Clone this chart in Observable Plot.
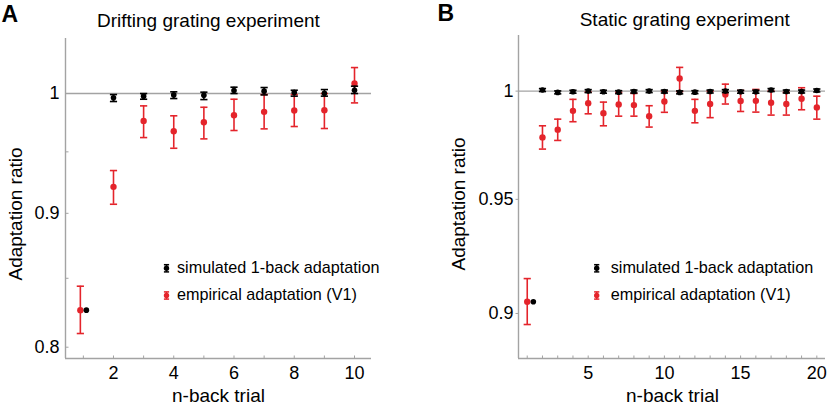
<!DOCTYPE html>
<html>
<head>
<meta charset="utf-8">
<script src="https://cdn.jsdelivr.net/npm/d3@7"></script>
<script src="https://cdn.jsdelivr.net/npm/@observablehq/plot@0.6"></script>
<style>
  html, body { margin: 0; padding: 0; background: #fff; }
  #wrap { position: relative; width: 828px; height: 405px; overflow: hidden; font-family: "Liberation Sans", Arial, sans-serif; }
  #wrap > .panel { position: absolute; top: 0; }
  #overlay { position: absolute; left: 0; top: 0; pointer-events: none; }
</style>
</head>
<body>
<div id="wrap">
  <div class="panel" id="panelA" style="left:0"></div>
  <div class="panel" id="panelB" style="left:414px"></div>
</div>
<script>
// ---------------- Data ----------------
// Panel A: drifting grating experiment
const driftTrials = [1, 2, 3, 4, 5, 6, 7, 8, 9, 10];
const driftSimMean = [0.8265, 0.9962, 0.9977, 0.9988, 0.9985, 1.0026, 1.0021, 1.0009, 1.0003, 1.0029];
const driftSimLow  = [0.8263, 0.9930, 0.9950, 0.9956, 0.9947, 1.0000, 0.9988, 0.9977, 0.9977, 1.0000];
const driftSimHigh = [0.8267, 0.9991, 1.0000, 1.0015, 1.0012, 1.0056, 1.0053, 1.0029, 1.0035, 1.0065];
const driftEmpMean = [0.8265, 0.9212, 0.9762, 0.9674, 0.9751, 0.9811, 0.9840, 0.9852, 0.9854, 1.0088];
const driftEmpLow  = [0.8097, 0.9072, 0.9620, 0.9530, 0.9609, 0.9680, 0.9694, 0.9714, 0.9697, 0.9918];
const driftEmpHigh = [0.8441, 0.9345, 0.9892, 0.9806, 0.9880, 0.9950, 0.9991, 0.9991, 1.0000, 1.0231];

// Panel B: static grating experiment
const staticTrials = [1, 2, 3, 4, 5, 6, 7, 8, 9, 10, 11, 12, 13, 14, 15, 16, 17, 18, 19, 20];
const staticSimMean = [0.9050, 1.0005, 0.9994, 0.9997, 1.0000, 0.9997, 0.9995, 0.9998, 1.0000, 0.9998, 0.9994, 0.9995, 0.9998, 1.0000, 0.9997, 0.9997, 1.0005, 0.9998, 0.9998, 1.0003];
const staticSimLow  = [0.9049, 0.9998, 0.9987, 0.9990, 0.9993, 0.9990, 0.9988, 0.9991, 0.9993, 0.9991, 0.9987, 0.9988, 0.9991, 0.9993, 0.9990, 0.9990, 0.9998, 0.9991, 0.9991, 0.9996];
const staticSimHigh = [0.9051, 1.0012, 1.0001, 1.0004, 1.0007, 1.0004, 1.0002, 1.0005, 1.0007, 1.0005, 1.0001, 1.0002, 1.0005, 1.0007, 1.0004, 1.0004, 1.0012, 1.0005, 1.0005, 1.0010];
const staticEmpMean = [0.9050, 0.9783, 0.9819, 0.9907, 0.9943, 0.9896, 0.9937, 0.9934, 0.9882, 0.9951, 1.0060, 0.9907, 0.9939, 0.9984, 0.9953, 0.9954, 0.9945, 0.9939, 0.9964, 0.9923];
const staticEmpLow  = [0.8953, 0.9729, 0.9769, 0.9856, 0.9893, 0.9837, 0.9882, 0.9882, 0.9831, 0.9900, 0.9998, 0.9851, 0.9875, 0.9939, 0.9904, 0.9901, 0.9887, 0.9887, 0.9912, 0.9868];
const staticEmpHigh = [0.9150, 0.9837, 0.9868, 0.9961, 0.9995, 0.9948, 0.9994, 0.9989, 0.9931, 1.0000, 1.0113, 0.9961, 1.0000, 1.0033, 1.0003, 1.0008, 1.0000, 0.9994, 1.0016, 0.9976];

// Ticks and labels
const driftXTickLabels = [2, 4, 6, 8, 10];
const driftYTickLabels = [0.8, 0.9, 1];
const driftYTicks = [0.8, 0.85, 0.9, 0.95];
const staticXTickLabels = [5, 10, 15, 20];
const staticYTickLabels = [0.9, 0.95, 1];

const seriesNames = ["simulated 1-back adaptation", "empirical adaptation (V1)"];
const titles = ["Drifting grating experiment", "Static grating experiment"];
const panelLetters = ["A", "B"];
const xLabel = "n-back trial";
const yLabel = "Adaptation ratio";

// ---------------- Styles ----------------
const RED = "#e4242b";
const BLACK = "#000000";
const GRAY = "#a3a3a3";
const FONT = "'Liberation Sans', Arial, Helvetica, sans-serif";

const radius = (size) => Math.sqrt(size / Math.PI);
const capSymbol = {draw(ctx, size) { const w = radius(size); ctx.moveTo(-w, 0); ctx.lineTo(w, 0); }};
const tickUp = {draw(ctx, size) { ctx.moveTo(0, 0); ctx.lineTo(0, -radius(size)); }};
const tickRight = {draw(ctx, size) { ctx.moveTo(0, 0); ctx.lineTo(radius(size), 0); }};
const tickLeft = {draw(ctx, size) { ctx.moveTo(0, 0); ctx.lineTo(-radius(size), 0); }};

function rows(trials, mean, lo, hi, firstOffset) {
  return trials.map((n, i) => ({
    x: n === 1 ? n + firstOffset : n,
    y: mean[i], lo: lo[i], hi: hi[i]
  }));
}

function seriesMarks(data, color, r, showBarFirst) {
  const bars = showBarFirst ? data : data.slice(1);
  return [
    Plot.ruleX(bars, {x: "x", y1: "lo", y2: "hi", stroke: color, strokeWidth: 1.6}),
    Plot.dot(bars, {x: "x", y: "lo", symbol: capSymbol, r: 3.6, fill: "none", stroke: color, strokeWidth: 1.6}),
    Plot.dot(bars, {x: "x", y: "hi", symbol: capSymbol, r: 3.6, fill: "none", stroke: color, strokeWidth: 1.6}),
    Plot.dot(data, {x: "x", y: "y", r, fill: color, stroke: "none"})
  ];
}

function panel(cfg) {
  const emp = rows(cfg.trials, cfg.empMean, cfg.empLow, cfg.empHigh, cfg.empOffset);
  const sim = rows(cfg.trials, cfg.simMean, cfg.simLow, cfg.simHigh, cfg.simOffset);
  const fmt = d3.format("~g");
  return Plot.plot({
    width: 414,
    height: 405,
    marginLeft: cfg.marginLeft,
    marginRight: cfg.marginRight,
    marginTop: cfg.marginTop,
    marginBottom: cfg.marginBottom,
    style: {fontFamily: FONT, fontSize: "18px", color: "#000", background: "transparent", overflow: "visible"},
    x: {domain: cfg.xDomain, axis: null},
    y: {type: "log", domain: cfg.yDomain, axis: null},
    marks: [
      Plot.ruleY([1], {stroke: GRAY, strokeWidth: 1.4}),
      Plot.ruleX([cfg.xDomain[0]], {stroke: GRAY, strokeWidth: 1.4}),
      Plot.ruleY([cfg.yDomain[0]], {stroke: GRAY, strokeWidth: 1.4}),
      // x tick marks (inward) and labels
      Plot.dot(cfg.trials, {x: (d) => d, frameAnchor: "bottom", symbol: tickUp, r: 3, fill: "none", stroke: GRAY, strokeWidth: 1}),
      Plot.text(cfg.xTickLabels, {x: (d) => d, text: (d) => fmt(d), frameAnchor: "bottom", lineAnchor: "top", dy: 7.5, fontSize: 18, fill: "#000"}),
      // y tick marks and labels
      Plot.dot(cfg.yTicks, {y: (d) => d, frameAnchor: "left", symbol: cfg.yTickSymbol, r: 3, fill: "none", stroke: GRAY, strokeWidth: 1}),
      Plot.text(cfg.yTickLabels, {y: (d) => d, text: (d) => fmt(d), frameAnchor: "left", textAnchor: "end", dx: -cfg.yLabelPad, fontSize: 18, fill: "#000"}),
      ...seriesMarks(emp, RED, 3.2, true),
      ...seriesMarks(sim, BLACK, 2.8, false)
    ]
  });
}

document.getElementById("panelA").appendChild(panel({
  trials: driftTrials,
  simMean: driftSimMean, simLow: driftSimLow, simHigh: driftSimHigh,
  empMean: driftEmpMean, empLow: driftEmpLow, empHigh: driftEmpHigh,
  empOffset: -0.1, simOffset: 0.1,
  marginLeft: 65, marginRight: 43, marginTop: 38, marginBottom: 47,
  xDomain: [0.407, 10.564], yDomain: [0.7921, 1.0496],
  xTickLabels: driftXTickLabels, yTickLabels: driftYTickLabels, yTicks: driftYTicks,
  yLabelPad: 6, yTickSymbol: tickRight
}));

document.getElementById("panelB").appendChild(panel({
  trials: staticTrials,
  simMean: staticSimMean, simLow: staticSimLow, simHigh: staticSimHigh,
  empMean: staticEmpMean, empLow: staticEmpLow, empHigh: staticEmpHigh,
  empOffset: 0, simOffset: 0.4,
  marginLeft: 104, marginRight: 3, marginTop: 35, marginBottom: 47,
  xDomain: [0.427, 20.57], yDomain: [0.8810, 1.0267],
  xTickLabels: staticXTickLabels, yTickLabels: staticYTickLabels, yTicks: staticYTickLabels,
  yLabelPad: 5, yTickSymbol: tickLeft
}));

// ---------------- Titles, labels, legends ----------------
const svg = d3.select("#wrap").append("svg")
  .attr("id", "overlay").attr("width", 828).attr("height", 405)
  .style("font-family", FONT);

const panelsText = [
  {letter: [1.5, 21.7], title: [97, 27.3], xl: [172, 401.5], yl: [21.5, 214], leg: [166.5, 177]},
  {letter: [437.5, 20.7], title: [579.7, 26], xl: [626, 401.5], yl: [464.5, 204], leg: [596.7, 610.7]}
];

panelsText.forEach((p, i) => {
  svg.append("text").attr("x", p.letter[0]).attr("y", p.letter[1])
    .attr("font-size", 23).attr("font-weight", "bold").text(panelLetters[i]);
  svg.append("text").attr("x", p.title[0]).attr("y", p.title[1])
    .attr("font-size", 19).text(titles[i]);
  svg.append("text").attr("x", p.xl[0]).attr("y", p.xl[1])
    .attr("font-size", 19).text(xLabel);
  svg.append("text").attr("transform", `translate(${p.yl[0]},${p.yl[1]}) rotate(-90)`)
    .attr("text-anchor", "middle").attr("font-size", 19).text(yLabel);
  // legend
  const colors = [BLACK, RED];
  const ys = [268.3, 295.5];
  seriesNames.forEach((name, j) => {
    const g = svg.append("g").attr("transform", `translate(${p.leg[0]},${ys[j]})`);
    g.append("line").attr("x1", 0).attr("x2", 0).attr("y1", -3.6).attr("y2", 3.6)
      .attr("stroke", colors[j]).attr("stroke-width", 1.5);
    g.append("line").attr("x1", -2.6).attr("x2", 2.6).attr("y1", -3.6).attr("y2", -3.6)
      .attr("stroke", colors[j]).attr("stroke-width", 1.5);
    g.append("line").attr("x1", -2.6).attr("x2", 2.6).attr("y1", 3.6).attr("y2", 3.6)
      .attr("stroke", colors[j]).attr("stroke-width", 1.5);
    g.append("circle").attr("r", 2.7).attr("fill", colors[j]);
    svg.append("text").attr("x", p.leg[1]).attr("y", ys[j] + 4.3)
      .attr("font-size", 16.2).text(name);
  });
});
</script>
</body>
</html>
